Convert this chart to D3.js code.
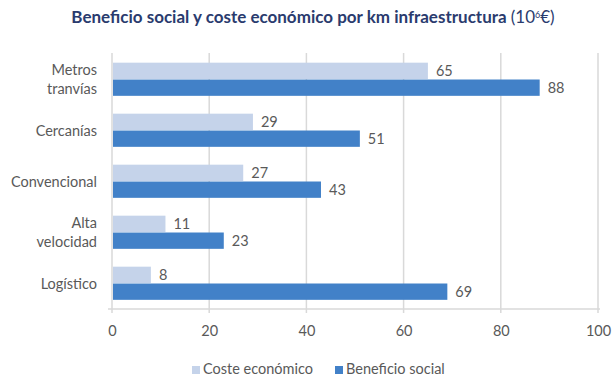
<!DOCTYPE html>
<html><head><meta charset="utf-8">
<script src="https://cdn.jsdelivr.net/npm/d3@7"></script>
<style>body{margin:0;background:#fff;}svg{display:block;}</style>
</head><body>
<svg id="c" width="614" height="380"></svg>
<script>
const categories = ["Metros\ntranvías", "Cercanías", "Convencional", "Alta\nvelocidad", "Logístico"];
const costeEconomico = [65, 29, 27, 11, 8];
const beneficioSocial = [88, 51, 43, 23, 69];
const seriesNames = ["Coste económico", "Beneficio social"];
const xTicks = [0, 20, 40, 60, 80, 100];

const colors = ["#c5d3ea", "#4281c8"];
const font = "Lato, 'Open Sans', sans-serif";
const fs = "14.5px";
const svg = d3.select("#c");
const m = {l:112, t:54};
const x = d3.scaleLinear().domain([0,100]).range([m.l, 598]);
const y = d3.scaleBand().domain(categories).range([m.t, 309]).paddingInner(0.34).paddingOuter(0.17);
const sub = d3.scaleBand().domain([0,1]).range([0, y.bandwidth()]);

// title
const title = svg.append("text").attr("x", 313).attr("y", 23).attr("text-anchor","middle")
  .style("font-family", font).style("font-size","17px").attr("fill","#2a3b6e");
title.append("tspan").attr("font-weight","bold").text("Beneficio social y coste económico por km infraestructura ");
title.append("tspan").text("(10");
title.append("tspan").attr("dy",-5).style("font-size","9px").text("6");
title.append("tspan").attr("dy",5).text("€)");

// gridlines
svg.append("g").selectAll("line").data(xTicks).join("line")
  .attr("x1", d=>x(d)).attr("x2", d=>x(d)).attr("y1", 53).attr("y2", 313)
  .attr("stroke","#d9d9d9").attr("stroke-width",1.5);
svg.append("line").attr("x1", x(0)-4).attr("x2", x(100)+2).attr("y1",309).attr("y2",309)
  .attr("stroke","#d9d9d9").attr("stroke-width",1.5);

// x tick labels via axis
const xa = svg.append("g").attr("transform","translate(0,309)")
  .call(d3.axisBottom(x).tickValues(xTicks).tickSize(0).tickPadding(17));
xa.select(".domain").remove();
xa.selectAll("text").style("font-family",font).style("font-size",fs).attr("fill","#595959");

// bars
const series = [costeEconomico, beneficioSocial];
series.forEach((vals, si) => {
  const g = svg.append("g");
  g.selectAll("rect").data(vals).join("rect")
    .attr("x", x(0)+1).attr("y", (d,i)=>y(categories[i]) + sub(si))
    .attr("width", d=>x(d)-x(0)-1).attr("height", sub.bandwidth()-0.5)
    .attr("fill", colors[si]);
  g.selectAll("text").data(vals).join("text")
    .attr("x", d=>x(d)+8).attr("y", (d,i)=>y(categories[i]) + sub(si) + sub.bandwidth()/2 + 5)
    .style("font-family",font).style("font-size",fs).attr("fill","#595959").text(d=>d);
});

// category labels
categories.forEach(c => {
  const lines = c.split("\n");
  const cy = y(c) + y.bandwidth()/2;
  const t = svg.append("text").attr("text-anchor","end").style("font-family",font)
    .style("font-size",fs).attr("fill","#595959");
  lines.forEach((ln, i) => {
    t.append("tspan").attr("x", 97).attr("y", cy + 5 + (i - (lines.length-1)/2)*19).text(ln);
  });
});

// legend
const leg = svg.append("g");
const lx = [192, 335];
seriesNames.forEach((n,i) => {
  leg.append("rect").attr("x", lx[i]).attr("y", 366).attr("width",8).attr("height",8).attr("fill",colors[i]);
  leg.append("text").attr("x", lx[i]+11).attr("y", 374).style("font-family",font)
    .style("font-size",fs).attr("fill","#595959").text(n);
});
</script>
</body></html>
